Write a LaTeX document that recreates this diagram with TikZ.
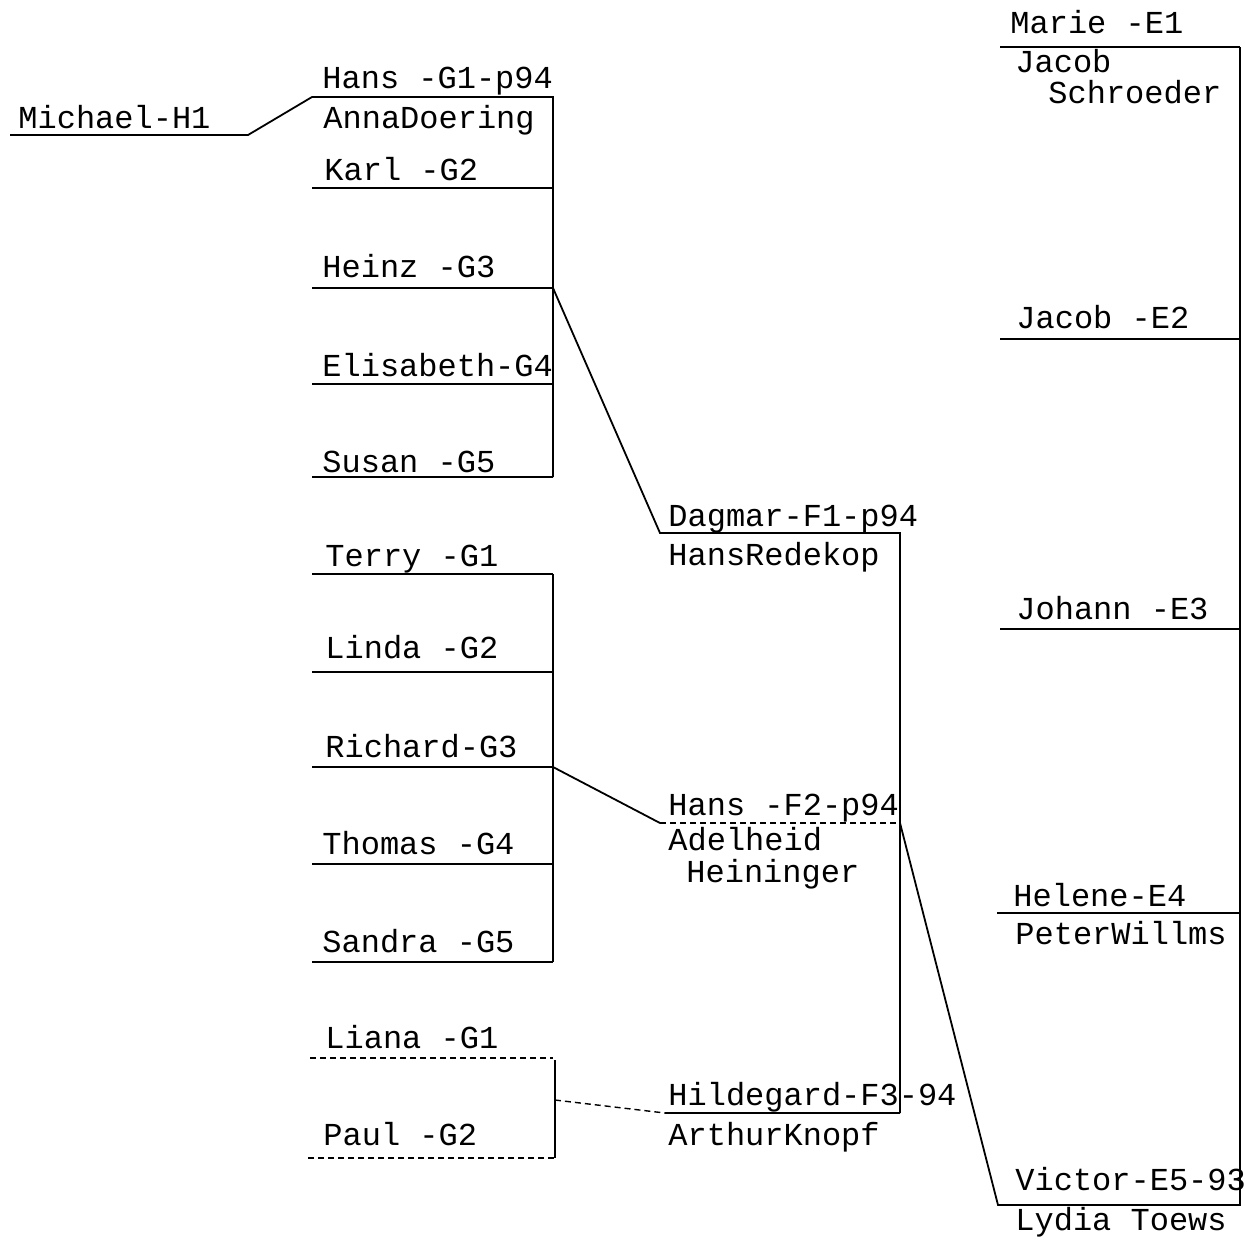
\documentclass[tikz,border=0pt]{standalone}
\usepackage{fontspec}
\setmonofont{Liberation Mono}
\usetikzlibrary{positioning}

\tikzset{
  person/.style={anchor=base west, inner sep=0pt, font=\ttfamily\fontsize{16}{18}\selectfont},
  link/.style={line width=0.9pt},
  faint/.style={line width=0.7pt, densely dashed}
}

\begin{document}
\begin{tikzpicture}[x=0.5pt, y=-0.5pt]
\useasboundingbox (0,0) rectangle (1245,1239);

% generation H
\node[person] (michael) at (18,128) {Michael-H1};
\coordinate (michaelL) at (10,135);
\coordinate (michaelR) at (248,135);

% generation G, first family
\node[person] (hansG) at (322,88) {Hans -G1-p94};
\node[person] (anna) at (323,128) {AnnaDoering};
\node[person] (karl) at (324,180) {Karl -G2};
\node[person] (heinz) at (322,277) {Heinz -G3};
\node[person] (elisabeth) at (322,376) {Elisabeth-G4};
\node[person] (susan) at (322,472) {Susan -G5};
\coordinate (hansGL) at (312,97);
\coordinate (famGatop) at (553,97);
\coordinate (famGabot) at (553,477);
\coordinate (heinzR) at (553,288);
\foreach \y in {188,288,384,477}
  \draw[link] (312,\y) -- (553,\y);

% generation G, second family
\node[person] (terry) at (325,566) {Terry -G1};
\node[person] (linda) at (325,658) {Linda -G2};
\node[person] (richard) at (325,757) {Richard-G3};
\node[person] (thomas) at (322,854) {Thomas -G4};
\node[person] (sandra) at (322,952) {Sandra -G5};
\coordinate (famGbtop) at (553,574);
\coordinate (famGbbot) at (553,962);
\coordinate (richardR) at (553,767);
\foreach \y in {574,672,767,864,962}
  \draw[link] (312,\y) -- (553,\y);

% generation G, third family
\node[person] (liana) at (325,1048) {Liana -G1};
\node[person] (paul) at (323,1145) {Paul -G2};
\coordinate (famGctop) at (555,1060);
\coordinate (famGcbot) at (555,1158);
\coordinate (famGcmid) at (555,1100);
\draw[faint] (310,1058) -- (553,1058);
\draw[faint] (308,1158) -- (555,1158);

% generation F
\node[person] (dagmar) at (668,526) {Dagmar-F1-p94};
\node[person] (redekop) at (668,565) {HansRedekop};
\node[person] (hansF) at (668,815) {Hans -F2-p94};
\node[person] (adelheid) at (668,850) {Adelheid};
\node[person] (heininger) at (686,882) {Heininger};
\node[person] (hildegard) at (668,1105) {Hildegard-F3-94};
\node[person] (knopf) at (668,1145) {ArthurKnopf};
\coordinate (dagmarL) at (660,533);
\coordinate (famFtop) at (900,533);
\coordinate (hansFL) at (660,823);
\coordinate (hansFR) at (900,823);
\coordinate (hildegardL) at (665,1113);
\coordinate (famFbot) at (900,1113);

% generation E
\node[person] (marie) at (1010,33) {Marie -E1};
\node[person] (jacobS) at (1015,72) {Jacob};
\node[person] (schroeder) at (1048,103) {Schroeder};
\node[person] (jacob) at (1016,328) {Jacob -E2};
\node[person] (johann) at (1016,619) {Johann -E3};
\node[person] (helene) at (1013,906) {Helene-E4};
\node[person] (willms) at (1015,944) {PeterWillms};
\node[person] (victor) at (1015,1190) {Victor-E5-93};
\node[person] (lydia) at (1015,1230) {Lydia Toews};
\coordinate (famEtop) at (1240,47);
\coordinate (victorL) at (998,1205);
\coordinate (famEbot) at (1240,1205);
\foreach \y/\x in {47/1000,339/1000,629/1000,913/997}
  \draw[link] (\x,\y) -- (1240,\y);

% connectors
\draw[link] (michaelL) -- (michaelR) -- (hansGL) -- (famGatop) -- (famGabot);
\draw[link] (famGbtop) -- (famGbbot);
\draw[link] (famGctop) -- (famGcbot);
\draw[link] (heinzR) -- (dagmarL) -- (famFtop) -- (famFbot);
\draw[link] (richardR) -- (hansFL);
\draw[faint] (hansFL) -- (hansFR);
\draw[faint] (famGcmid) -- (hildegardL);
\draw[link] (hildegardL) -- (famFbot);
\draw[link] (hansFR) -- (victorL) -- (famEbot) -- (famEtop);

\end{tikzpicture}
\end{document}
